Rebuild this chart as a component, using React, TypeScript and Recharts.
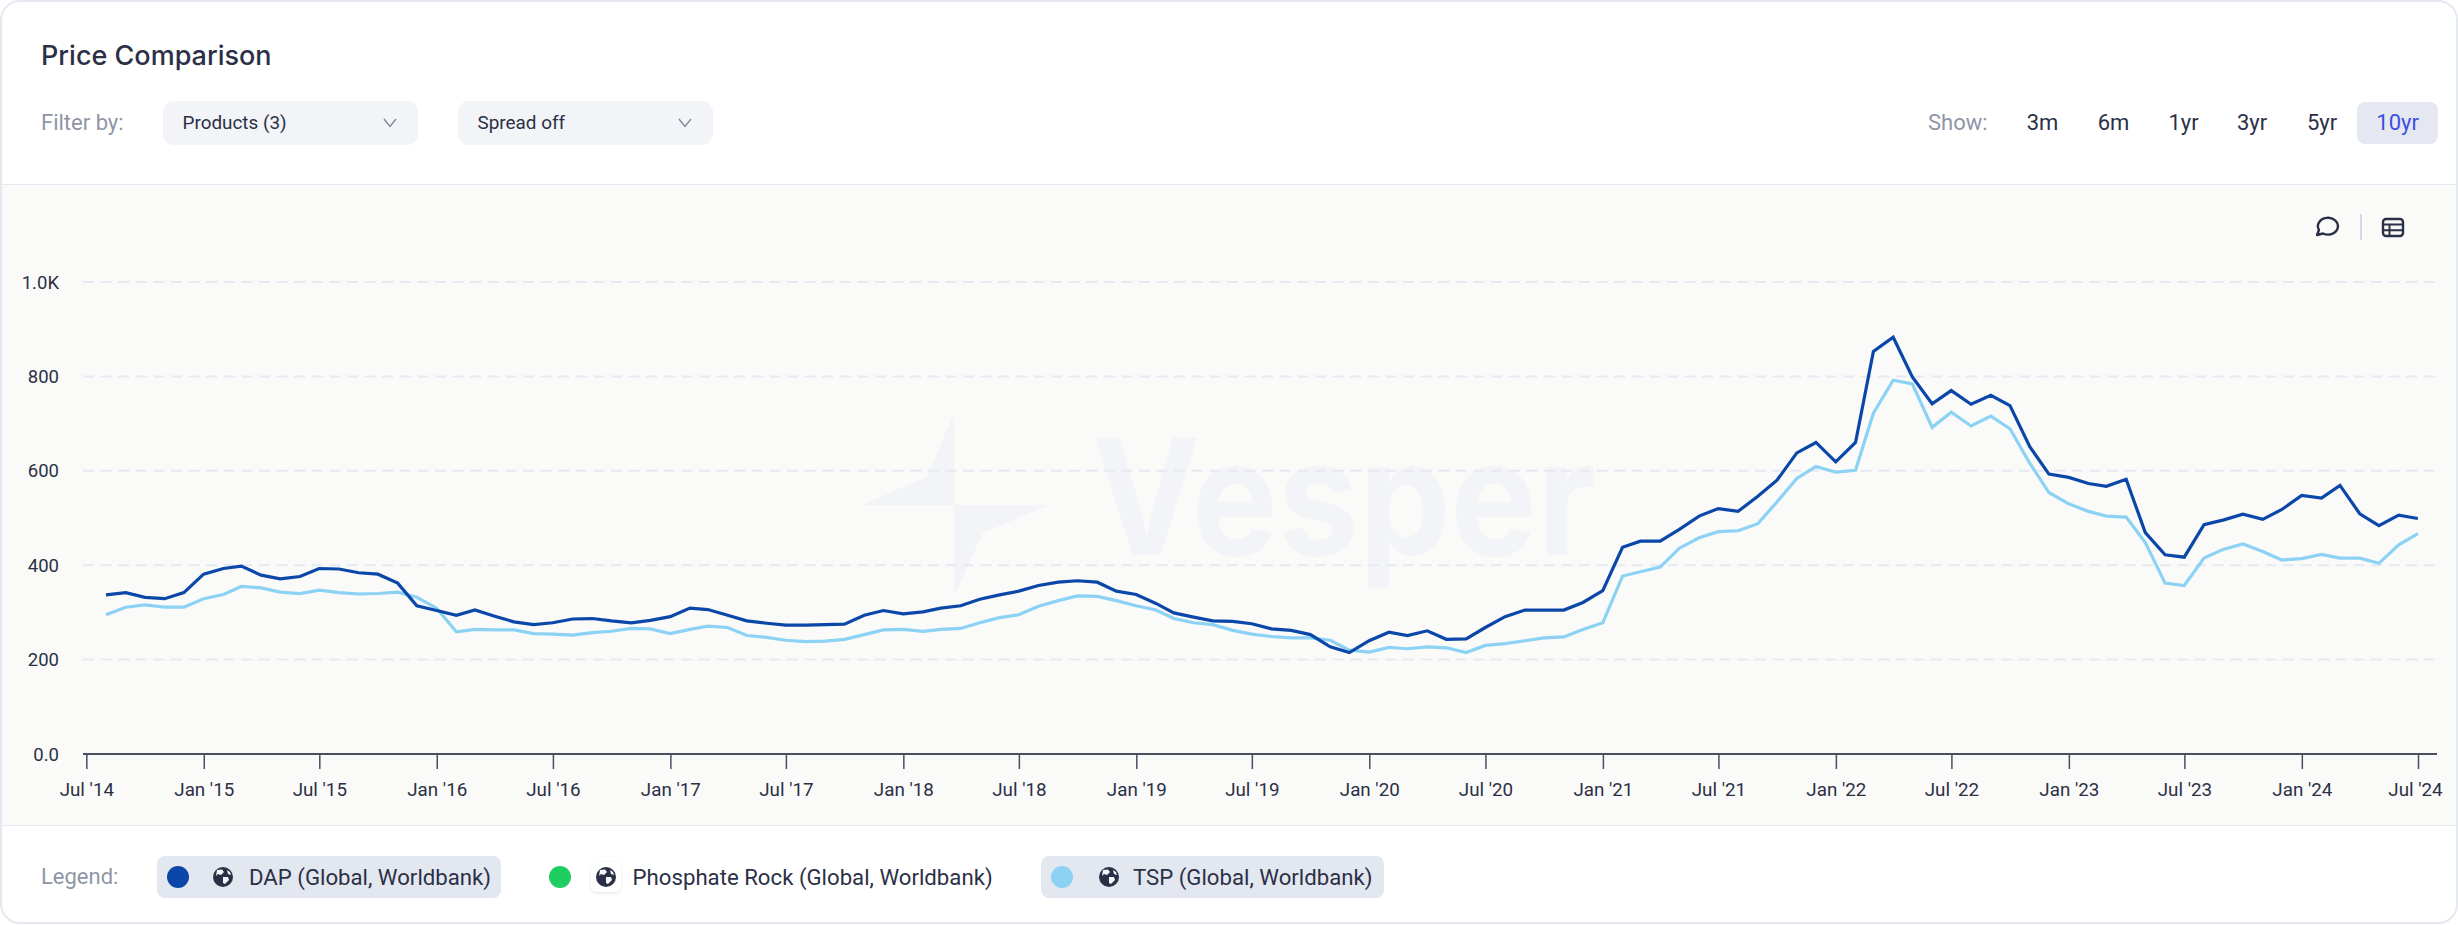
import React from "react";
import { LineChart, Line, XAxis, YAxis, CartesianGrid } from "recharts";

const dapValues = [
  337, 342, 332, 329, 342, 381, 393, 398, 379, 371, 376, 393, 392, 384, 381, 362, 314, 304, 294, 305, 292, 280, 274, 278,
  286, 287, 282, 278, 283, 291, 309, 306, 294, 282, 277, 273, 273, 274, 275, 294, 304, 297, 301, 309, 314, 328, 337, 345,
  357, 364, 367, 364, 345, 338, 319, 299, 290, 282, 281, 276, 265, 262, 253, 227, 215, 240, 258, 251, 261, 243, 244, 268,
  291, 305, 305, 305, 321, 346, 438, 451, 451, 476, 504, 520, 514, 546, 580, 638, 660, 619, 660, 853, 883, 799, 742, 770,
  741, 760, 738, 651, 593, 586, 573, 567, 582, 469, 422, 417, 486, 496, 508, 497, 518, 548, 542, 569, 509, 484, 506, 499,
];
const tspValues = [
  295, 311, 316, 311, 311, 329, 338, 355, 352, 343, 340, 347, 342, 339, 340, 343, 332, 309, 259, 264, 263, 263, 255, 254,
  252, 257, 260, 266, 265, 255, 264, 271, 268, 251, 247, 241, 238, 239, 243, 253, 263, 264, 260, 264, 266, 278, 289, 295,
  313, 325, 335, 334, 325, 314, 305, 287, 278, 274, 262, 254, 249, 246, 246, 241, 220, 216, 226, 223, 227, 225, 215, 230,
  234, 240, 246, 248, 264, 278, 377, 386, 396, 436, 458, 471, 473, 488, 534, 584, 609, 597, 601, 722, 792, 784, 692, 724,
  695, 716, 689, 616, 554, 530, 514, 504, 502, 448, 362, 357, 415, 434, 445, 429, 411, 414, 423, 415, 415, 404, 443, 467,
];
const tickLabels = [
  "Jul '14", "Jan '15", "Jul '15", "Jan '16", "Jul '16", "Jan '17", "Jul '17", "Jan '18", "Jul '18", "Jan '19", "Jul '19",
  "Jan '20", "Jul '20", "Jan '21", "Jul '21", "Jan '22", "Jul '22", "Jan '23", "Jul '23", "Jan '24", "Jul '24",
];
const yTicks = [0, 200, 400, 600, 800, 1000];
const rangeOptions = ["3m", "6m", "1yr", "3yr", "5yr", "10yr"];

const dateOfMonth = (i: number) => Date.UTC(2014, 7 + i, 0);
const rows = dapValues.map((dap, i) => ({ t: dateOfMonth(i), dap, tsp: tspValues[i] }));
const xTicks = tickLabels.map((_, i) => Date.UTC(2014, 6 + i * 6, 1));
const yLabel = (v: number) => (v === 0 ? "0.0" : v >= 1000 ? `${(v / 1000).toFixed(1)}K` : String(v));

const FONT = "Roboto, sans-serif";
const INK = "#2b3046";
const MUTED = "#8f95a6";

function XTick({ x, y, payload }: any) {
  const idx = xTicks.indexOf(payload.value);
  const last = idx === tickLabels.length - 1;
  return (
    <text x={x} y={y} dy={19} dx={last ? -3 : 0} textAnchor="middle" fontFamily={FONT} fontSize={18.8} fill={INK}>
      {tickLabels[idx]}
    </text>
  );
}

function T({ x, cy, size = 18, color = INK, weight = 400, font = FONT, anchor = "left", children }: any) {
  const tx = anchor === "center" ? "-50%" : "0";
  return (
    <div style={{ position: "absolute", left: x, top: cy, transform: `translate(${tx},-50%)`, fontFamily: font, fontSize: size, color, fontWeight: weight, whiteSpace: "nowrap", lineHeight: 1 }}>
      {children}
    </div>
  );
}

function Select({ x, w, label }: any) {
  return (
    <>
      <div style={{ position: "absolute", left: x, top: 101, width: w, height: 44, background: "#f2f4f7", borderRadius: 11 }} />
      <T x={x + 19.5} cy={123} size={18.9}>{label}</T>
      <svg style={{ position: "absolute", left: x + w - 35, top: 117 }} width="14" height="12" viewBox="0 0 14 12">
        <path d="M1 2 L7 9.5 L13 2" fill="none" stroke="#7e8496" strokeWidth="1.3" />
      </svg>
    </>
  );
}

function Globe({ cx, boxed }: any) {
  return (
    <>
      <div style={{ position: "absolute", left: cx - 15, top: 862, width: 30, height: 30, borderRadius: 5, background: boxed ? "#e3e7f0" : "#ffffff", boxShadow: boxed ? "none" : "0 1px 3px rgba(40,50,80,0.14)" }} />
      <svg style={{ position: "absolute", left: cx - 11, top: 866 }} width="22" height="22" viewBox="0 0 22 22">
        <circle cx="11" cy="11" r="10" fill={INK} />
        <path d="M5 4 L10 3.5 L12 6 L9 9 L6 8 L4 10 Z M11 11 L16 11 L17 14 L13 18 L11 17 Z M15 4 L18 6 L19 9 L16 8 Z" fill="#f4f6fa" />
      </svg>
    </>
  );
}

function LegendItem({ chip, dot, dotX, globeX, textX, label }: any) {
  return (
    <>
      {chip && <div style={{ position: "absolute", left: chip[0], top: 856, width: chip[1], height: 42, background: "#e3e7f0", borderRadius: 8 }} />}
      <div style={{ position: "absolute", left: dotX - 11, top: 866, width: 22, height: 22, borderRadius: "50%", background: dot }} />
      <Globe cx={globeX} boxed={!!chip} />
      <T x={textX} cy={877} size={22.2}>{label}</T>
    </>
  );
}

export default function App() {
  return (
    <div style={{ position: "absolute", left: 0, top: 0, width: 2458, height: 925, background: "#fff", overflow: "hidden" }}>
      {/* chart band */}
      <div style={{ position: "absolute", left: 0, top: 184, width: 2458, height: 642, background: "#fafaf8", borderTop: "1.5px solid #e5e8f0", borderBottom: "1.5px solid #e5e8f0", boxSizing: "border-box" }} />

      {/* watermark */}
      <svg style={{ position: "absolute", left: 0, top: 0 }} width="2458" height="925">
        <path d="M954 413 L927 477 L861 505 L954 505 Z M954 505 L1048 505 L983 533 L954 597 Z" fill="#f3f4f7" />
        <text x="1092" y="555" fontFamily="Inter, sans-serif" fontWeight={700} fontSize={161} fill="#f3f4f7" textLength={504} lengthAdjust="spacingAndGlyphs">Vesper</text>
      </svg>

      {/* header */}
      <T x={41} cy={54.5} size={27} weight={500} font="Inter, sans-serif">Price Comparison</T>
      <T x={41} cy={123} size={22} color={MUTED}>Filter by:</T>
      <Select x={163} w={255} label="Products (3)" />
      <Select x={458} w={255} label="Spread off" />
      <T x={1928} cy={123} size={22} color={MUTED}>Show:</T>
      <div style={{ position: "absolute", left: 2357, top: 102, width: 81, height: 42, background: "#e5e8f0", borderRadius: 8 }} />
      {rangeOptions.map((r, i) => (
        <T key={r} x={[2042.6, 2113.5, 2183.5, 2252, 2322, 2397.6][i]} cy={123} size={22} anchor="center" color={r === "10yr" ? "#3d4fe0" : INK}>{r}</T>
      ))}

      {/* chart tool icons */}
      <svg style={{ position: "absolute", left: 2310, top: 210 }} width="100" height="34" viewBox="0 0 100 34">
        <path d="M7 25 L9 20 A10 8.4 0 1 1 13 23.5 Z" fill="none" stroke={INK} strokeWidth="2.4" strokeLinejoin="round" />
        <rect x="50" y="4" width="2" height="26" fill="#cfdbea" />
        <rect x="73" y="9" width="20" height="17" rx="3" fill="none" stroke={INK} strokeWidth="2.4" />
        <path d="M73 14.6 H93 M73 20.2 H93 M79.5 14 V26" stroke={INK} strokeWidth="2" />
      </svg>

      {/* chart */}
      <div style={{ position: "absolute", left: 0, top: 184 }}>
        <LineChart width={2458} height={642} data={rows} margin={{ top: 98, right: 21, bottom: 0, left: 0 }}>
          <CartesianGrid vertical={false} stroke="#e6e9f2" strokeWidth={2} strokeDasharray="11 6.6" syncWithTicks />
          <XAxis
            dataKey="t"
            type="number"
            scale="time"
            domain={[Date.UTC(2014, 5, 25), Date.UTC(2024, 6, 30)]}
            ticks={xTicks}
            interval={0}
            height={72}
            tick={<XTick />}
            tickSize={15}
            tickMargin={8}
            tickLine={{ stroke: "#4a4e63", strokeWidth: 1.5 }}
            axisLine={{ stroke: "#4a4e63", strokeWidth: 2 }}
          />
          <YAxis
            type="number"
            domain={[0, 1000]}
            ticks={yTicks}
            width={83}
            tickFormatter={yLabel}
            tick={{ fontFamily: FONT, fontSize: 18.5, fill: INK }}
            tickSize={0}
            tickMargin={24}
            axisLine={false}
            tickLine={false}
          />
          <Line dataKey="tsp" stroke="#8cd2f4" strokeWidth={3.2} dot={false} isAnimationActive={false} />
          <Line dataKey="dap" stroke="#0a47a8" strokeWidth={3.2} dot={false} isAnimationActive={false} />
        </LineChart>
      </div>

      {/* legend */}
      <T x={41} cy={877} size={22} color={MUTED}>Legend:</T>
      <LegendItem chip={[157, 343.5]} dot="#0a47a8" dotX={177.5} globeX={223} textX={249} label="DAP (Global, Worldbank)" />
      <LegendItem dot="#1fce62" dotX={560} globeX={605.6} textX={632.6} label="Phosphate Rock (Global, Worldbank)" />
      <LegendItem chip={[1041, 342.7]} dot="#8cd2f4" dotX={1062} globeX={1108.7} textX={1133} label="TSP (Global, Worldbank)" />

      {/* card border */}
      <div style={{ position: "absolute", left: 0, top: 0, width: 2458, height: 924, boxSizing: "border-box", border: "2px solid #e5e8f0", borderRadius: 20, pointerEvents: "none" }} />
    </div>
  );
}
